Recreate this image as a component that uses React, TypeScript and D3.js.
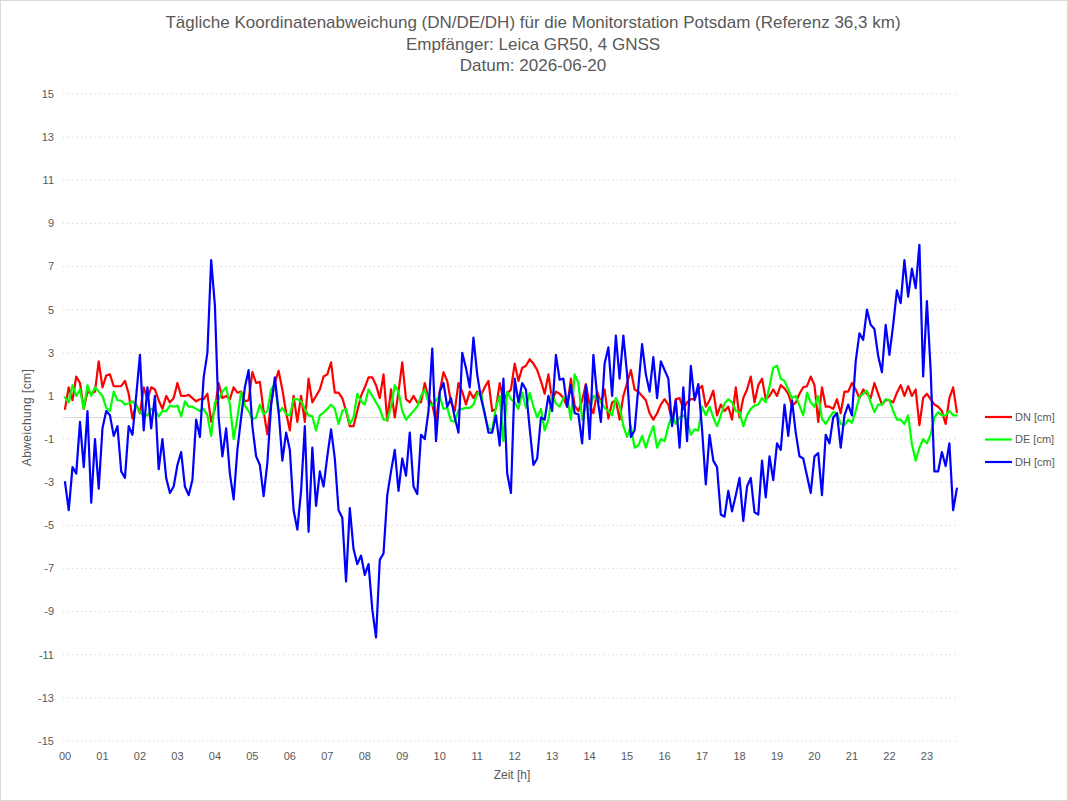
import React from "react";
import * as d3 from "d3";

// ---- Data (6-minute samples, hour 00:00 .. 23:48) ----
const SAMPLE_MINUTES = 6;

const dnValues: number[] = [
  0.4, 1.4, 0.8, 1.9, 1.6, 0.4, 1.2, 1.1, 1.2, 2.6,
  1.4, 1.95, 2.0, 1.45, 1.45, 1.45, 1.7, 1.1, -0.05, 0.6,
  0.2, 1.4, 0.85, 1.4, 1.3, 0.8, 0.4, 1.0, 0.7, 0.9,
  1.6, 1.0, 1.0, 1.05, 0.9, 0.75, 0.85, 0.85, 1.1, -0.2,
  0.4, 1.6, 0.9, 1.0, 0.85, 1.4, 1.15, 1.2, 0.75, 0.8,
  2.1, 1.6, 1.65, 0.3, -0.78, 0.7, 1.6, 2.17, 1.3, 0.23,
  -0.6, 1.0, -0.2, 1.0, -0.2, 1.8, 0.7, 1.0, 1.3, 1.9,
  2.0, 2.56, 1.15, 1.15, 0.9, 0.3, -0.4, -0.4, 0.3, 1.0,
  1.4, 1.86, 1.86, 1.5, 0.9, 2.0, -0.15, 1.3, 0.0, 1.2,
  2.56, 0.85, 0.7, 1.0, 0.7, 0.7, 1.6, 0.9, 0.6, -0.2,
  1.2, 2.1, 1.7, 0.7, 0.3, 1.6, 1.2, 0.6, 1.2, 0.9,
  1.2, 1.0, 1.4, 1.7, 0.3, 0.4, 1.6, 0.8, 1.1, 1.3,
  2.5, 1.7, 2.3, 2.4, 2.7, 2.5, 2.2, 1.7, 1.1, 2.0,
  0.8, 1.2, 1.1, 0.9, 0.5, 1.8, 0.55, 0.3, 0.8, 1.55,
  0.6, 0.2, 1.2, 0.7, 1.3, -0.05, 0.7, 0.8, -0.1, 1.0,
  1.6, 2.2, 1.3, 1.2, 1.0, 0.8, 0.2, -0.1, 0.2, 0.6,
  0.85, 0.6, -0.2, 0.85, 0.9, 0.4, 0.7, 0.85, 0.85, 1.3,
  1.47, 0.5, 0.8, 1.24, 0.1, 0.6, 0.3, 0.5, -0.1, 1.4,
  0.0, 0.9, 1.3, 1.9, 0.7, 1.5, 1.8, 0.85, 1.0, 1.3,
  1.0, 1.5, 1.35, 1.1, 0.55, 0.7, 1.1, 1.4, 1.45, 1.9,
  1.5, -0.2, 1.4, 0.5, 0.5, 0.4, 0.85, 0.2, 1.2, 1.2,
  1.6, 1.3, 0.9, 1.3, 1.1, 0.9, 1.6, 1.1, 0.6, 0.8,
  0.8, 0.7, 1.15, 1.5, 1.0, 1.45, 1.0, 1.3, -0.35, 0.9,
  1.1, 0.85, 0.6, 0.5, 0.3, -0.3, 0.9, 1.4, 0.25,
];

const deValues: number[] = [
  0.93, 0.7, 1.5, 1.0, 1.3, 0.4, 1.5, 1.0, 1.4, 1.2,
  1.0, 0.45, 0.3, 1.2, 0.8, 0.78, 0.6, 0.65, 0.75, 0.55,
  0.25, 0.1, 0.1, 0.4, 0.35, 0.05, 0.3, 0.3, 0.55, 0.5,
  0.55, 0.05, 0.75, 0.5, 0.5, 0.4, 0.3, 0.4, 0.1, -0.85,
  0.7, 0.85, 1.2, 1.4, 0.6, -1.0, 0.0, 1.16, 0.55, 0.3,
  -0.08, 0.0, 0.6, 0.15, 0.3, 1.3, 1.55, 0.2, 0.45, 0.15,
  0.1, 0.85, 0.85, 0.75, 0.4, 0.1, 0.05, -0.6, 0.1, 0.23,
  0.4, 0.6, 0.4, -0.3, 0.3, 0.4, -0.3, 0.0, 1.1, 0.75,
  0.6, 1.3, 1.0, 0.7, 0.4, -0.1, -0.1, 0.5, 1.5, 1.2,
  0.3, -0.1, 0.1, 0.3, 0.5, 1.0, 1.3, 0.7, 0.55, 0.8,
  1.0, 0.4, 0.45, -0.15, -0.2, 0.35, 0.4, 0.45, 0.45, 0.6,
  1.1, 1.2, 0.1, -0.5, -0.6, 0.5, 1.0, -1.1, 1.2, 0.85,
  0.7, 0.4, 1.16, 0.45, 1.15, 0.5, 0.0, 0.4, -0.6, -0.1,
  1.1, 0.65, 0.5, 0.9, 0.95, -0.1, 2.0, 1.6, -0.1, 0.6,
  0.35, 1.0, 0.85, 0.75, 0.45, 0.3, 0.1, 0.9, 0.55, -0.4,
  -0.9, -0.4, -1.4, -1.3, -0.85, -1.4, -0.85, -0.4, -1.4, -1.0,
  -1.1, -0.4, 0.1, -0.3, 0.0, 0.1, -0.1, -0.8, -0.55, -0.6,
  0.5, 0.1, 0.5, 0.0, -0.4, 0.1, 0.65, 0.85, 0.7, 0.3,
  0.25, -0.4, 0.1, 0.4, 0.55, 0.6, 0.9, 0.7, 1.45, 2.3,
  2.4, 1.8, 1.7, 1.3, 0.9, 1.0, 0.55, 0.1, 1.15, 0.7,
  0.5, 1.0, -0.05, -0.3, 0.0, 0.25, 0.2, -0.3, -0.35, -0.1,
  -0.25, 0.3, 0.95, 1.1, 1.25, 0.7, 0.25, 0.6, 0.6, 0.85,
  0.8, 0.3, -0.1, -0.1, -0.3, 0.1, -1.24, -2.0, -1.4, -1.0,
  -1.2, -0.8, 0.0, 0.25, 0.1, 0.1, 0.3, 0.1, 0.1,
];

const dhValues: number[] = [
  -3.0, -4.3, -2.3, -2.6, -0.2, -2.3, 0.3, -3.95, -1.0, -3.3,
  -0.5, 0.3, 0.1, -0.85, -0.4, -2.5, -2.8, -0.4, -0.8, 1.0,
  2.9, -0.6, 1.4, -0.5, 1.0, -2.4, -1.0, -2.8, -3.5, -3.2,
  -2.2, -1.6, -3.2, -3.6, -2.9, -0.1, -0.9, 1.86, 3.0, 7.3,
  5.2, 0.0, -1.8, -0.5, -2.6, -3.8, -1.5, 0.0, 1.4, 2.2,
  -0.4, -1.8, -2.2, -3.65, -2.1, 0.55, 1.86, 0.3, -2.0, -0.7,
  -1.5, -4.3, -5.2, -3.4, -0.4, -5.3, -1.4, -4.1, -2.5, -3.2,
  -1.8, -0.55, -1.9, -4.3, -4.65, -7.6, -4.2, -6.1, -6.8, -6.4,
  -7.3, -6.8, -8.9, -10.2, -6.6, -6.3, -3.6, -2.5, -1.5, -3.4,
  -1.9, -2.7, -0.7, -3.2, -3.55, -0.8, -1.0, 0.3, 3.2, -1.1,
  1.2, 1.6, 0.5, 0.9, 0.0, -0.7, 3.0, 2.3, 1.4, 3.7,
  2.0, 0.9, 0.2, -0.7, -0.7, 0.1, -1.3, 1.8, -2.6, -3.5,
  1.8, 0.7, 1.6, 1.3, -0.5, -2.2, -1.9, 0.0, -0.1, 1.0,
  0.3, 2.9, 1.75, 1.8, 0.5, 1.5, 0.2, 0.15, -1.2, 1.5,
  -1.0, 2.9, 1.0, -0.2, 2.5, 3.25, 1.0, 3.8, 1.8, 3.8,
  2.0, -0.9, -0.6, 1.4, 3.4, 2.0, 1.2, 2.8, 0.9, 2.6,
  2.2, 1.8, -0.4, 0.8, -1.4, 1.4, -1.1, 2.4, 0.8, 1.55,
  -0.55, -3.1, -0.8, -2.0, -2.3, -4.5, -4.6, -3.4, -4.35, -3.6,
  -2.8, -4.8, -3.2, -2.8, -4.4, -4.5, -2.0, -3.7, -1.8, -2.9,
  -1.2, -1.5, 0.6, -0.85, 0.8, -0.7, -1.8, -1.9, -2.7, -3.5,
  -1.8, -1.65, -3.6, -0.8, -1.2, 0.0, 0.2, -1.4, 0.1, 0.6,
  0.1, 2.6, 3.9, 3.6, 5.0, 4.3, 4.1, 2.85, 2.1, 4.3,
  2.9, 4.3, 5.9, 5.3, 7.3, 5.6, 6.9, 6.0, 8.0, 1.9,
  5.4, 2.2, -2.5, -2.5, -1.6, -2.25, -1.2, -4.3, -3.3,
];

const hourLabels: string[] = [
  "00", "01", "02", "03", "04", "05", "06", "07", "08", "09", "10", "11",
  "12", "13", "14", "15", "16", "17", "18", "19", "20", "21", "22", "23",
];
const yTicks: number[] = [15, 13, 11, 9, 7, 5, 3, 1, -1, -3, -5, -7, -9, -11, -13, -15];

const seriesNames = ["DN [cm]", "DE [cm]", "DH [cm]"];
const seriesColors = ["#ff0000", "#00ff00", "#0000ff"];

const titleLines = [
  "Tägliche Koordinatenabweichung (DN/DE/DH) für die Monitorstation Potsdam (Referenz 36,3 km)",
  "Empfänger: Leica GR50, 4 GNSS",
  "Datum: 2026-06-20",
];

const W = 1068;
const H = 801;
const FONT = "'Liberation Sans', Arial, sans-serif";
const TEXT = "#595959";

export default function App() {
  const x = d3.scaleLinear().domain([0, 23.83]).range([65, 958]);
  const y = d3.scaleLinear().domain([-15, 15]).range([741, 94]);

  const series = [dnValues, deValues, dhValues];
  const line = d3
    .line<number>()
    .x((_, i) => x((i * SAMPLE_MINUTES) / 60))
    .y((v) => y(v));

  return (
    <svg
      width={W}
      height={H}
      style={{ position: "absolute", left: 0, top: 0, background: "#fff" }}
      fontFamily={FONT}
    >
      <rect x={0.5} y={0.5} width={W - 1} height={H - 1} fill="#fff" stroke="#d9d9d9" />
      {titleLines.map((t, i) => (
        <text
          key={i}
          x={533}
          y={28 + i * 21.5}
          textAnchor="middle"
          fontSize={17}
          fill={TEXT}
        >
          {t}
        </text>
      ))}

      {/* grid */}
      {yTicks.map((t) => (
        <g key={t}>
          <line
            x1={63}
            x2={958}
            y1={y(t)}
            y2={y(t)}
            stroke="#d9d9d9"
            strokeWidth={1}
            strokeDasharray="1.5,3"
          />
          <text
            x={54}
            y={y(t)}
            dy="0.35em"
            textAnchor="end"
            fontSize={11}
            fill={TEXT}
          >
            {t}
          </text>
        </g>
      ))}
      <line x1={63} x2={958} y1={y(0)} y2={y(0)} stroke="#d9d9d9" strokeWidth={1} />

      {/* x labels */}
      {hourLabels.map((h, i) => (
        <text
          key={h}
          x={x(i)}
          y={756}
          dy="0.35em"
          textAnchor="middle"
          fontSize={11}
          fill={TEXT}
        >
          {h}
        </text>
      ))}

      <text x={512} y={775} dy="0.35em" textAnchor="middle" fontSize={12} fill={TEXT}>
        Zeit [h]
      </text>
      <text
        transform={`translate(27,${y(0)}) rotate(-90)`}
        textAnchor="middle"
        dy="0.35em"
        fontSize={12}
        fill={TEXT}
        letterSpacing={0.4}
      >
        Abweichung [cm]
      </text>

      {/* series */}
      {series.map((s, k) => (
        <path
          key={k}
          d={line(s) || ""}
          fill="none"
          stroke={seriesColors[k]}
          strokeWidth={2.2}
          strokeLinejoin="round"
          strokeLinecap="round"
        />
      ))}

      {/* legend */}
      {seriesNames.map((n, k) => (
        <g key={n} transform={`translate(0,${417 + k * 22.5})`}>
          <line x1={985} x2={1012} y1={0} y2={0} stroke={seriesColors[k]} strokeWidth={2.2} />
          <text x={1015} y={0} dy="0.35em" fontSize={11} fill={TEXT}>
            {n}
          </text>
        </g>
      ))}
    </svg>
  );
}
